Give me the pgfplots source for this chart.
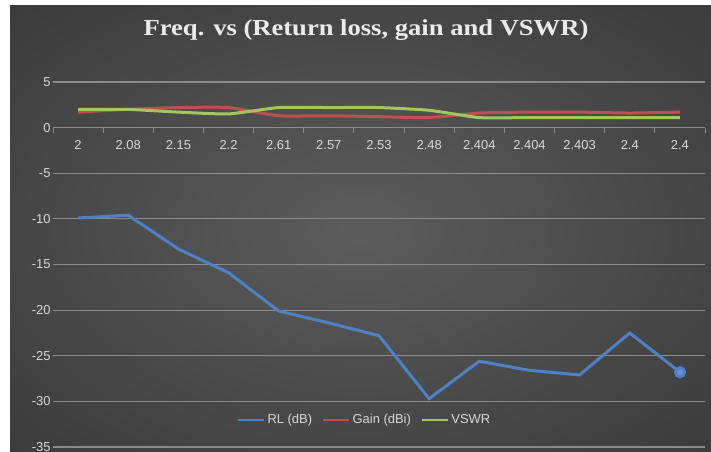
\documentclass[border=0pt]{standalone}
\usepackage{fontspec}
\setmainfont{Liberation Sans}
\newfontfamily\titlefont{Liberation Serif}
\usepackage{graphicx}
\usepackage{pgfplots}
\pgfplotsset{compat=1.18}
\definecolor{bgin}{HTML}{5C5C5C}
\definecolor{bgmid}{HTML}{404040}
\definecolor{bgout}{HTML}{282828}
\definecolor{rlblue}{HTML}{4F81C7}
\definecolor{gainred}{HTML}{C0504D}
\definecolor{vswrgreen}{HTML}{A2C75E}
\definecolor{gridc}{HTML}{8A8A8A}
\definecolor{txt}{HTML}{D8D8D8}
\pgfdeclareradialshading{bgshade}{\pgfpoint{0bp}{0bp}}{color(0bp)=(bgin); color(30bp)=(bgmid); color(55bp)=(bgout); color(80bp)=(bgout)}
\begin{document}
\begin{tikzpicture}
\useasboundingbox (0bp,0bp) rectangle (711bp,452bp);
\fill[white] (0bp,0bp) rectangle (711bp,452bp);
\shade[shading=bgshade] (10bp,0bp) rectangle (711bp,446bp);
\node[anchor=base, text=white!92!black, inner sep=0pt] at (366bp,416bp)
  {\scalebox{1.16}[1]{\titlefont\bfseries\fontsize{23}{27}\selectfont Freq. vs (Return loss, gain and VSWR)}};
\begin{axis}[
  at={(53bp,5bp)}, anchor=south west,
  scale only axis, width=652bp, height=365bp,
  xmin=-0.5, xmax=12.5, ymin=-35, ymax=5,
  axis x line*=middle, axis y line*=left,
  y axis line style={draw=none},
  x axis line style={draw=gridc, line width=1.2bp},
  hide obscured x ticks=false, hide obscured y ticks=false,
  xtick={-0.5,0.5,...,12.5}, xticklabels={},
  xtick align=outside,
  major tick length=5bp,
  xtick style={draw=gridc, line width=1bp},
  extra x ticks={0,1,2,3,4,5,6,7,8,9,10,11,12},
  extra x tick labels={2,2.08,2.15,2.2,2.61,2.57,2.53,2.48,2.404,2.404,2.403,2.4,2.4},
  extra x tick style={major tick length=0pt, xticklabel style={font=\fontsize{13}{15}\selectfont, text=txt, yshift=-9bp}},
  ytick={-35,-30,-25,-20,-15,-10,-5,0,5},
  yticklabels={-35,-30,-25,-20,-15,-10,-5,0,5},
  ytick style={draw=none},
  yticklabel style={font=\fontsize{13}{15}\selectfont, text=txt, xshift=1bp},
  ymajorgrids, grid style={draw=gridc, line width=1.1bp},
  clip=false,
  legend columns=3,
  legend style={at={(0.478,0.074)}, anchor=center, draw=none, fill=none,
    font=\fontsize{13}{15}\selectfont, text=txt,
    /tikz/every even column/.append style={column sep=8bp}},
  legend image code/.code={\draw[#1, line width=2.5bp] (0bp,0bp) -- (26bp,0bp);},
]
\addplot[rlblue, line width=3bp, mark=*, mark indices={13}, mark size=4.5bp, mark options={fill=rlblue!85!white, draw=rlblue}] coordinates {
 (0,-9.9) (1,-9.6) (2,-13.3) (3,-15.9) (4,-20.1) (5,-21.4) (6,-22.8)
 (7,-29.7) (8,-25.6) (9,-26.6) (10,-27.1) (11,-22.5) (12,-26.8)};
\addlegendentry{RL (dB)}
\addplot[gainred, line width=3bp, smooth, tension=0.3] coordinates {
 (0,1.7) (1,2.0) (2,2.2) (3,2.2) (4,1.3) (5,1.3) (6,1.2)
 (7,1.1) (8,1.6) (9,1.7) (10,1.7) (11,1.6) (12,1.7)};
\addlegendentry{Gain (dBi)}
\addplot[vswrgreen, line width=3bp, smooth, tension=0.3] coordinates {
 (0,2.0) (1,2.0) (2,1.7) (3,1.5) (4,2.2) (5,2.2) (6,2.2)
 (7,1.9) (8,1.1) (9,1.1) (10,1.1) (11,1.1) (12,1.1)};
\addlegendentry{VSWR}
\end{axis}
\end{tikzpicture}
\end{document}
